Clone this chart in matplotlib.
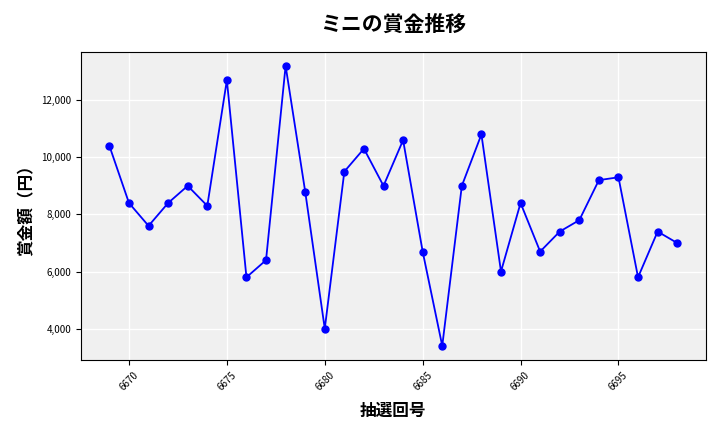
import matplotlib
matplotlib.use("Agg")
import matplotlib.pyplot as plt
from matplotlib.ticker import FuncFormatter

plt.rcParams['font.family'] = ['Noto Sans CJK JP', 'DejaVu Sans']

draws = list(range(6669, 6699))
prizes = [10400, 8400, 7600, 8400, 9000, 8300, 12700, 5800, 6400, 13200,
          8800, 4000, 9500, 10300, 9000, 10600, 6700, 3400, 9000, 10800,
          6000, 8400, 6700, 7400, 7800, 9200, 9300, 5800, 7400, 7000]

fig = plt.figure(figsize=(7.2, 4.32), dpi=100)
ax = fig.add_axes([0.1125, 0.167, 0.8675, 0.713])
ax.set_facecolor('#f0f0f0')
ax.grid(True, color='white', linewidth=1)
ax.set_axisbelow(True)
ax.plot(draws, prizes, color='blue', marker='o', markersize=5, linewidth=1.3)
ax.yaxis.set_major_formatter(FuncFormatter(lambda v, p: f"{int(v):,}"))
ax.tick_params(axis='x', labelrotation=45, labelsize=7)
ax.tick_params(axis='y', labelsize=7)
ax.set_title('ミニの賞金推移', fontsize=15, fontweight='bold', pad=15)
ax.set_xlabel('抽選回号', fontsize=12, fontweight='bold', labelpad=7)
ax.set_ylabel('賞金額（円）', fontsize=12, fontweight='bold')
fig.savefig('out.png', dpi=100)
